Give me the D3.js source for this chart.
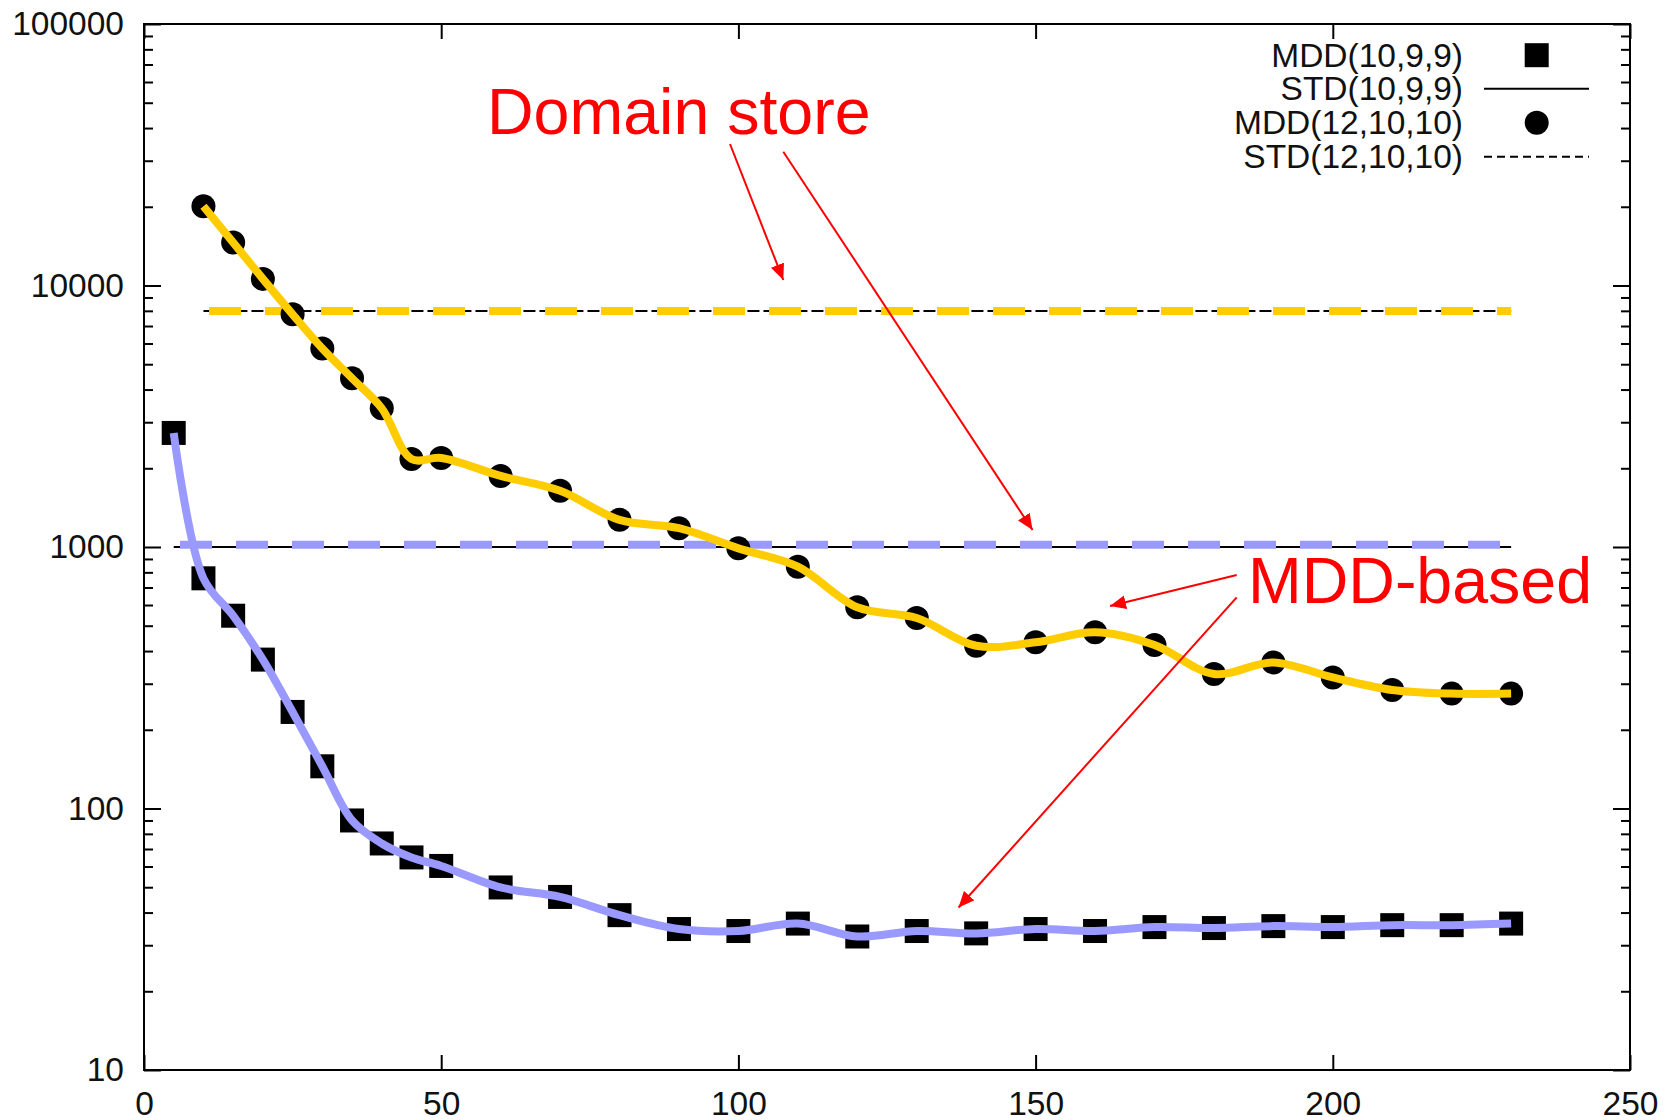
<!DOCTYPE html>
<html>
<head>
<meta charset="utf-8">
<script src="https://cdn.jsdelivr.net/npm/d3@7"></script>
<style>
  html, body { margin: 0; padding: 0; background: #fff; }
  svg { display: block; font-family: "Liberation Sans", Arial, sans-serif; }
</style>
</head>
<body>
<svg id="chart" width="1676" height="1120"></svg>
<script>
// ---- data ----
const xTicks = [0, 50, 100, 150, 200, 250];
const yTicks = [10, 100, 1000, 10000, 100000];

const mdd10X = [5, 10, 15, 20, 25, 30, 35, 40, 45, 50, 60, 70, 80, 90, 100, 110, 120, 130, 140, 150, 160, 170, 180, 190, 200, 210, 220, 230];
const mdd10Y = [2730, 759, 546, 371, 234, 145, 90, 73.5, 65, 60.3, 49.9, 45.9, 39.1, 34.6, 34.0, 36.3, 32.4, 34.0, 33.3, 34.6, 34.0, 35.2, 34.9, 35.5, 35.2, 35.8, 35.8, 36.3];

const mdd12X = [10, 15, 20, 25, 30, 35, 40, 45, 50, 60, 70, 80, 90, 100, 110, 120, 130, 140, 150, 160, 170, 180, 190, 200, 210, 220, 230];
const mdd12Y = [20100, 14600, 10600, 7760, 5740, 4420, 3390, 2170, 2190, 1870, 1640, 1270, 1180, 988, 841, 588, 535, 419, 432, 472, 422, 327, 362, 317, 284, 275, 275];

const std10X = [5, 230];
const std10Y = [1000, 1000];
const std12X = [10, 230];
const std12Y = [7990, 7990];
// hand-drawn highlight of the STD(10,9,9) line sits slightly above it
const std10HighlightY = [1020, 1020];

const legendLabels = ["MDD(10,9,9)", "STD(10,9,9)", "MDD(12,10,10)", "STD(12,10,10)"];

const annotations = ["Domain store", "MDD-based"];

// ---- layout ----
const svg = d3.select("#chart");
const xS = d3.scaleLinear().domain([0, 250]).range([144, 1630]);
const yS = d3.scaleLog().domain([10, 100000]).range([1070, 24]);

const zip = (xs, ys) => xs.map((v, i) => [v, ys[i]]);
const lineGen = d3.line().x(d => xS(d[0])).y(d => yS(d[1]));
const curveGen = d3.line().x(d => xS(d[0])).y(d => yS(d[1])).curve(d3.curveCatmullRom.alpha(0.5));

const minorTicks = [];
for (let e = 1; e < 5; e++) for (let m = 2; m <= 9; m++) minorTicks.push(m * Math.pow(10, e));

// axes
const fmt = d => String(d);
const gAxes = svg.append("g").attr("class", "axes");

gAxes.append("g").attr("transform", `translate(0,${yS(10)})`)
  .call(d3.axisBottom(xS).tickValues(xTicks).tickSizeInner(-15).tickSizeOuter(0).tickPadding(21).tickFormat(fmt));
gAxes.append("g").attr("transform", `translate(0,${yS(100000)})`)
  .call(d3.axisTop(xS).tickValues(xTicks).tickSizeInner(-15).tickSizeOuter(0).tickFormat(""));
gAxes.append("g").attr("transform", `translate(${xS(0)},0)`)
  .call(d3.axisLeft(yS).tickValues(yTicks).tickSizeInner(-17).tickSizeOuter(0).tickPadding(20).tickFormat(fmt));
gAxes.append("g").attr("transform", `translate(${xS(0)},0)`)
  .call(d3.axisLeft(yS).tickValues(minorTicks).tickSizeInner(-9).tickSizeOuter(0).tickFormat(""));
gAxes.append("g").attr("transform", `translate(${xS(250)},0)`)
  .call(d3.axisRight(yS).tickValues(yTicks).tickSizeInner(-17).tickSizeOuter(0).tickFormat(""));
gAxes.append("g").attr("transform", `translate(${xS(250)},0)`)
  .call(d3.axisRight(yS).tickValues(minorTicks).tickSizeInner(-9).tickSizeOuter(0).tickFormat(""));

gAxes.selectAll(".domain").remove();
gAxes.selectAll(".tick line").attr("stroke", "#000").attr("stroke-width", 2);
gAxes.selectAll(".tick text").attr("font-size", 33.5).attr("fill", "#111")
  .attr("font-family", '"Liberation Sans", Arial, sans-serif');

svg.append("rect")
  .attr("x", xS(0)).attr("y", yS(100000))
  .attr("width", xS(250) - xS(0)).attr("height", yS(10) - yS(100000))
  .attr("fill", "none").attr("stroke", "#000").attr("stroke-width", 2);

// STD lines (black)
svg.append("path").datum(zip(std10X, std10Y)).attr("d", lineGen)
  .attr("fill", "none").attr("stroke", "#000").attr("stroke-width", 2);
svg.append("path").datum(zip(std12X, std12Y)).attr("d", lineGen)
  .attr("fill", "none").attr("stroke", "#000").attr("stroke-width", 2)
  .attr("stroke-dasharray", "12,4");

// thick dashed highlights
svg.append("path").datum(zip(std10X, std10HighlightY)).attr("d", lineGen)
  .attr("fill", "none").attr("stroke", "#9999ff").attr("stroke-width", 8)
  .attr("stroke-dasharray", "32,24").attr("stroke-dashoffset", 49.7);
svg.append("path").datum(zip(std12X, std12Y)).attr("d", lineGen)
  .attr("fill", "none").attr("stroke", "#ffcc00").attr("stroke-width", 8)
  .attr("stroke-dasharray", "32,24").attr("stroke-dashoffset", 50.4);

// markers
svg.append("g").selectAll("rect").data(zip(mdd10X, mdd10Y)).join("rect")
  .attr("x", d => xS(d[0]) - 12).attr("y", d => yS(d[1]) - 12)
  .attr("width", 24).attr("height", 24).attr("fill", "#000");
svg.append("g").selectAll("circle").data(zip(mdd12X, mdd12Y)).join("circle")
  .attr("cx", d => xS(d[0])).attr("cy", d => yS(d[1])).attr("r", 12).attr("fill", "#000");

// smooth highlight curves over the markers
svg.append("path").datum(zip(mdd10X, mdd10Y)).attr("d", curveGen)
  .attr("fill", "none").attr("stroke", "#9999ff").attr("stroke-width", 8);
svg.append("path").datum(zip(mdd12X, mdd12Y)).attr("d", curveGen)
  .attr("fill", "none").attr("stroke", "#ffcc00").attr("stroke-width", 8);

// legend
const lg = svg.append("g").attr("font-size", 33.5).attr("fill", "#111");
const lgBase = [66.7, 100.3, 134.3, 168.3];
legendLabels.forEach((t, i) => {
  lg.append("text").attr("x", 1463).attr("y", lgBase[i]).attr("text-anchor", "end").text(t);
});
const lgY = lgBase.map(b => b - 11.5);
lg.append("rect").attr("x", 1536.7 - 12).attr("y", lgY[0] - 12).attr("width", 24).attr("height", 24).attr("fill", "#000");
lg.append("line").attr("x1", 1484).attr("x2", 1589).attr("y1", lgY[1]).attr("y2", lgY[1]).attr("stroke", "#000").attr("stroke-width", 2);
lg.append("circle").attr("cx", 1536.7).attr("cy", lgY[2]).attr("r", 12).attr("fill", "#000");
lg.append("line").attr("x1", 1484).attr("x2", 1589).attr("y1", lgY[3]).attr("y2", lgY[3]).attr("stroke", "#000").attr("stroke-width", 2).attr("stroke-dasharray", "8,5");

// annotations
const red = "#ff0000";
svg.append("text").attr("x", 487).attr("y", 133.5).attr("font-size", 64.5).attr("fill", red).text(annotations[0]);
svg.append("text").attr("x", 1248).attr("y", 603).attr("font-size", 64.5).attr("fill", red).text(annotations[1]);

const defs = svg.append("defs");
defs.append("marker").attr("id", "ah").attr("viewBox", "0 0 16 14")
  .attr("refX", 16).attr("refY", 7).attr("markerWidth", 16).attr("markerHeight", 14)
  .attr("markerUnits", "userSpaceOnUse").attr("orient", "auto")
  .append("path").attr("d", "M0,0 L16,7 L0,14 Z").attr("fill", red);

const arrows = [
  [730, 144, 783.3, 280],
  [783.3, 151.7, 1032.6, 530],
  [1236.7, 575, 1110, 606],
  [1236.7, 597.3, 958.5, 907.5]
];
svg.append("g").selectAll("line").data(arrows).join("line")
  .attr("x1", d => d[0]).attr("y1", d => d[1]).attr("x2", d => d[2]).attr("y2", d => d[3])
  .attr("stroke", red).attr("stroke-width", 2).attr("marker-end", "url(#ah)");
</script>
</body>
</html>
